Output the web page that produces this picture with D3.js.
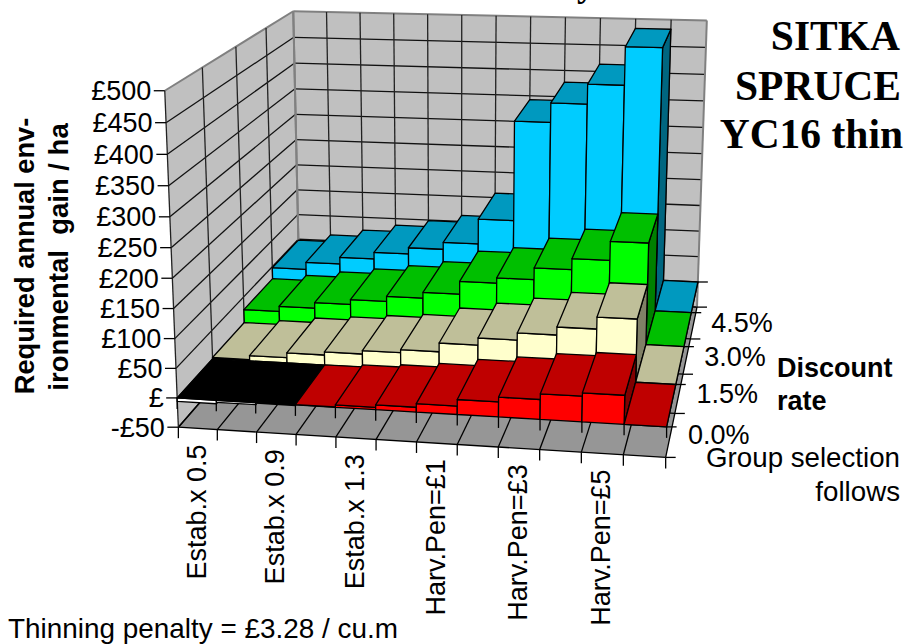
<!DOCTYPE html>
<html><head><meta charset="utf-8">
<script src="https://cdn.jsdelivr.net/npm/d3@7"></script>
<style>html,body{margin:0;padding:0;background:#fff}svg{display:block}</style>
</head><body><svg id="c" width="904" height="644"></svg>
<script>
// ---------- data ----------
const xLabels = ["Estab.x 0.5","Estab.x 0.9","Estab.x 1.3","Harv.Pen=£1","Harv.Pen=£3","Harv.Pen=£5"];
const rates = ["0.0%","1.5%","3.0%","4.5%"];
const yTicks = [-50,0,50,100,150,200,250,300,350,400,450,500];
const yTickText = ["-£50","£","£50","£100","£150","£200","£250","£300","£350","£400","£450","£500"];
const rate00 = [-6,-3.5,-1,0.5,4,8,14,24.8,32.7,42,47.5,0];
const rate15 = [2.5,9.4,17.8,23.2,29.1,34.4,49.6,61.8,74,87.7,108.1,0];
const rate30 = [26.7,36.2,46.3,55.1,64.4,75,98.1,107.4,128.4,148,181.6,0];
const rate45 = [48.1,61.6,74.3,86.9,98.6,111.8,158.6,342.6,377.9,413.6,482.2,0];
const rows = [rate00, rate15, rate30, rate45];
const frontColors = ["#ff0000","#ffffcc","#00ff00","#00ccff"];
const topColors   = ["#bf0000","#bfbf99","#00bf00","#0099bf"];
const sideColors  = ["#800000","#808066","#008000","#006680"];

// ---------- scales (unit cube) ----------
const nCols = rate00.length;
const U = d3.scaleLinear().domain([0,nCols]).range([0,1]);
const V = d3.scaleLinear().domain([-50,500]).range([0,1]);
const W = d3.scaleLinear().domain([0,rows.length]).range([0,1]);

// ---------- perspective camera, fitted to the view frame ----------
const frame = [
 [0,-50,0,178,426.5],[0,500,0,165,91],[0,500,4,292.7,9.3],[12,500,4,706.7,21.7],
 [12,-50,4,697,305.7],[12,-50,0,666,458],[12,0,0,667,428],[0,0,0,177,397],
 [12,0,4,698,281],[0,0,4,299,265],[0,-50,4,300,291],
 [12,0,0,667,428],[0,0,0,177,397],[0,0,1,212.5,357.5],
 [12,0,1,676,385],[12,0,2,684,346.7],[12,0,3,692,311.7],
 [12,-50,1,674,414],[12,-50,2,682,374],[12,-50,3,690,338],
 [0,500,1,202.7,68],[0,500,2,236,47],[0,500,3,266,28]
];
function fitCamera(){
  const A=[],b=[];
  frame.forEach(([u,v,w,x,y])=>{
    const a=U(u),c=V(v),d=W(w),X=x/1000,Y=y/1000;
    A.push([a,c,d,1,0,0,0,0,-X*a,-X*c,-X*d]);b.push(X);
    A.push([0,0,0,0,a,c,d,1,-Y*a,-Y*c,-Y*d]);b.push(Y);
  });
  const n=11,M=d3.range(n).map(i=>d3.range(n+1).map(j=>{
    let s=0;A.forEach((r,k)=>{s+=r[i]*(j<n?r[j]:b[k]);});return s;}));
  for(let i=0;i<n;i++){
    let p=i;for(let r=i+1;r<n;r++)if(Math.abs(M[r][i])>Math.abs(M[p][i]))p=r;
    [M[i],M[p]]=[M[p],M[i]];
    for(let r=0;r<n;r++){if(r===i)continue;const f=M[r][i]/M[i][i];
      for(let c=i;c<=n;c++)M[r][c]-=f*M[i][c];}
  }
  return d3.range(n).map(i=>M[i][n]/M[i][i]);
}
const cam = fitCamera();
function P(u,v,w){
  const a=U(u),c=V(v),d=W(w),h=cam[8]*a+cam[9]*c+cam[10]*d+1;
  return [1000*(cam[0]*a+cam[1]*c+cam[2]*d+cam[3])/h, 1000*(cam[4]*a+cam[5]*c+cam[6]*d+cam[7])/h];
}

const svg = d3.select("#c");
const path = d3.line();
const poly = pts => path(pts)+"Z";
const SANS = "'Liberation Sans',Arial,sans-serif", SERIF="'Liberation Serif','Times New Roman',serif";
const EDGE = "#808080", LW = 1.3;

// ---------- walls and floor ----------
const Vmin=-50,Vmax=500,Wn=rows.length;
const walls = svg.append("g");
walls.append("path").attr("d",poly([P(0,Vmin,Wn),P(nCols,Vmin,Wn),P(nCols,Vmax,Wn),P(0,Vmax,Wn)])).attr("fill","#c0c0c0");
walls.append("path").attr("d",poly([P(0,Vmin,0),P(0,Vmin,Wn),P(0,Vmax,Wn),P(0,Vmax,0)])).attr("fill","#c0c0c0");
walls.append("path").attr("d",poly([P(0,Vmin,0),P(nCols,Vmin,0),P(nCols,Vmin,Wn),P(0,Vmin,Wn)])).attr("fill","#969696");
const gridLine=(g,a,b,c,w)=>g.append("path").attr("d",path([a,b])).attr("fill","none").attr("stroke",c||"#000").attr("stroke-width",w||LW);
yTicks.forEach(t=>{
  gridLine(walls,P(0,t,0),P(0,t,Wn),t===Vmax?EDGE:"#111",t===Vmax?2:LW);
  gridLine(walls,P(0,t,Wn),P(nCols,t,Wn),t===Vmax?EDGE:"#111",t===Vmax?2:LW);
});
d3.range(nCols+1).forEach(i=>{
  const edge=i===0||i===nCols;
  gridLine(walls,P(i,Vmin,Wn),P(i,Vmax,Wn),edge?EDGE:"#222",edge?2:LW);
  gridLine(walls,P(i,Vmin,0),P(i,Vmin,Wn));
});
d3.range(Wn+1).forEach(k=>{
  gridLine(walls,P(0,Vmin,k),P(0,Vmax,k),k===Wn?EDGE:"#222",k===Wn?2:LW);
  gridLine(walls,P(0,Vmin,k),P(nCols,Vmin,k));
});

// ---------- ticks ----------
const ticks = svg.append("g");
yTicks.forEach((t,i)=>{
  const p=P(0,t,0);
  gridLine(ticks,[p[0]-11,p[1]],p);
  ticks.append("text").attr("x",p[0]-13.5).attr("y",p[1]+9.5).attr("text-anchor","end")
    .attr("font-family",SANS).attr("font-size",27).attr("fill","#000").text(yTickText[i]);
});
d3.range(nCols+1).forEach(i=>{
  [0,Vmin].forEach(v=>{const p=P(i,v,0);gridLine(ticks,p,[p[0],p[1]+11]);});
});
d3.range(Wn+1).forEach(k=>{
  [0,Vmin].forEach(v=>{const p=P(nCols,v,k);gridLine(ticks,p,[p[0]+10,p[1]]);});
});

// ---------- bars, painted back to front ----------
const bars=[];
d3.range(Wn-1,-1,-1).forEach(k=>rows[k].forEach((val,i)=>bars.push({k,i,val})));
const bar = svg.append("g").selectAll("g").data(bars).join("g")
  .attr("stroke","#000").attr("stroke-width",LW).attr("stroke-linejoin","round");
const hi=d=>Math.max(0,d.val), lo=d=>Math.min(0,d.val);
bar.append("path").attr("d",d=>poly([P(d.i+1,lo(d),d.k),P(d.i+1,lo(d),d.k+1),P(d.i+1,hi(d),d.k+1),P(d.i+1,hi(d),d.k)]))
  .attr("fill",d=>d.val<0?"#fff":sideColors[d.k]);
bar.append("path").attr("d",d=>poly([P(d.i,lo(d),d.k),P(d.i+1,lo(d),d.k),P(d.i+1,hi(d),d.k),P(d.i,hi(d),d.k)]))
  .attr("fill",d=>d.val<0?"#fff":frontColors[d.k]);
bar.append("path").attr("d",d=>poly([P(d.i,hi(d),d.k),P(d.i+1,hi(d),d.k),P(d.i+1,hi(d),d.k+1),P(d.i,hi(d),d.k+1)]))
  .attr("fill",d=>d.val<0?"#000":topColors[d.k]);

// ---------- text ----------
const txt=(s,x,y,o={})=>{
  const t=svg.append("text").attr("x",x).attr("y",y).text(s)
   .attr("font-family",o.family||SANS).attr("font-size",o.size||27)
   .attr("font-weight",o.weight||"normal").attr("text-anchor",o.anchor||"start").attr("fill","#000");
  if(o.rot)t.attr("transform",`rotate(${o.rot} ${x} ${y})`);
  return t;
};
xLabels.forEach((s,i)=>{
  const p=P(i*2+0.5,Vmin,0);
  txt(s,p[0]+8,p[1]+16,{rot:-90,anchor:"end"});
});
rates.forEach((s,k)=>{
  const p=P(nCols,Vmin,k+0.5);
  txt(s,p[0]+17.5,p[1]+9.5,{anchor:"start"});
});
txt("Required annual env-",34,256,{rot:-90,anchor:"middle",weight:"bold",size:27.2});
txt("ironmental  gain / ha",68,257,{rot:-90,anchor:"middle",weight:"bold",size:27.5}).style("white-space","pre");
txt("Discount",777,377,{weight:"bold"});
txt("rate",777,410,{weight:"bold"});
txt("Group selection",900,467,{anchor:"end",size:27.7});
txt("follows",900,501,{anchor:"end",size:27.7});
txt("Thinning penalty = £3.28 / cu.m",8,638,{size:27.9});
txt("SITKA",900,50,{anchor:"end",family:SERIF,weight:"bold",size:41.5});
txt("SPRUCE",901,100,{anchor:"end",family:SERIF,weight:"bold",size:41.5});
txt("YC16 thin",903,148,{anchor:"end",family:SERIF,weight:"bold",size:41.5});
txt("y",577,-4,{family:SERIF,weight:"bold",size:36});
</script></body></html>
